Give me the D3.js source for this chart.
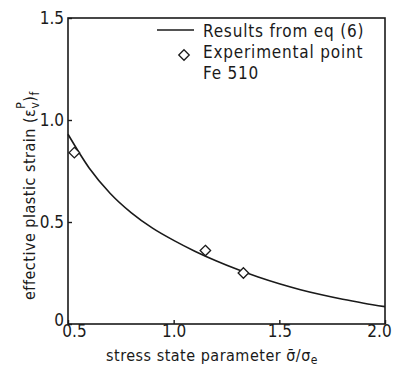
<!DOCTYPE html>
<html>
<head>
<meta charset="utf-8">
<script src="https://cdn.jsdelivr.net/npm/d3@7"></script>
<style>
  body { margin: 0; background: #fff; }
  svg text { font-family: "Liberation Sans Narrow", "DejaVu Sans Condensed", "Liberation Sans", sans-serif; fill: #1a1a1a; }
</style>
</head>
<body>
<svg id="chart" width="398" height="374"></svg>
<script>
// curve from eq (6)
var curveX = [0.5, 0.6, 0.7, 0.8, 0.9, 1.0, 1.1, 1.2, 1.3, 1.4, 1.5, 1.6, 1.7, 1.8, 1.9, 2.0];
var curveY = [0.93, 0.765, 0.64, 0.545, 0.47, 0.41, 0.357, 0.31, 0.268, 0.23, 0.197, 0.168, 0.143, 0.121, 0.102, 0.085];
// experimental points Fe 510
var expX = [0.53, 1.15, 1.33];
var expY = [0.84, 0.36, 0.25];
var xTicks = [0.5, 1.0, 1.5, 2.0];
var xTickLabels = ["0.5", "1.0", "1.5", "2.0"];
var yTicks = [0, 0.5, 1.0, 1.5];
var yTickLabels = ["0", "0.5", "1.0", "1.5"];
var legendLabels = ["Results from eq (6)", "Experimental point", "Fe 510"];

var svg = d3.select("#chart");
var ink = "#1a1a1a";

var x = d3.scaleLinear().domain([0.5, 2.0]).range([68, 385]);
var y = d3.scaleLinear().domain([0, 1.5]).range([324, 18]);

// frame
svg.append("rect")
    .attr("x", x(0.5)).attr("y", y(1.5))
    .attr("width", x(2.0) - x(0.5)).attr("height", y(0) - y(1.5))
    .attr("fill", "none").attr("stroke", ink).attr("stroke-width", 1.6);

// axes, ticks pointing inward
var xAxis = svg.append("g")
    .attr("transform", "translate(0," + y(0) + ")")
    .call(d3.axisBottom(x).tickValues(xTicks).tickSizeInner(-4).tickSizeOuter(0).tickPadding(1)
        .tickFormat(function (d, i) { return xTickLabels[i]; }));
var yAxis = svg.append("g")
    .attr("transform", "translate(" + x(0.5) + ",0)")
    .call(d3.axisLeft(y).tickValues(yTicks).tickSizeInner(-4).tickSizeOuter(0).tickPadding(4)
        .tickFormat(function (d, i) { return yTickLabels[i]; }));

[xAxis, yAxis].forEach(function (g) {
    g.select(".domain").remove();
    g.selectAll(".tick line").attr("stroke", ink).attr("stroke-width", 1.4);
    g.selectAll(".tick text").attr("font-size", 17).attr("fill", ink);
});
// first x label sits right of the corner, "0" label sits slightly high
xAxis.selectAll(".tick text").filter(function (d) { return d === 0.5; }).attr("dx", 6);
xAxis.selectAll(".tick text").filter(function (d) { return d === 2.0; }).attr("dx", -6);
yAxis.selectAll(".tick text").filter(function (d) { return d === 0; }).attr("dy", "0.1em");

// curve
var line = d3.line()
    .x(function (d) { return x(d[0]); })
    .y(function (d) { return y(d[1]); })
    .curve(d3.curveMonotoneX);
svg.append("path")
    .datum(d3.zip(curveX, curveY))
    .attr("d", line)
    .attr("fill", "none").attr("stroke", ink).attr("stroke-width", 1.6);

// experimental points
var diamond = d3.symbol().type(d3.symbolDiamond2).size(70);
svg.selectAll(".pt")
    .data(d3.zip(expX, expY))
    .enter().append("path")
    .attr("class", "pt")
    .attr("d", diamond)
    .attr("transform", function (d) { return "translate(" + x(d[0]) + "," + y(d[1]) + ")"; })
    .attr("fill", "#fff").attr("stroke", ink).attr("stroke-width", 1.3);

// legend
svg.append("line")
    .attr("x1", 157).attr("x2", 194).attr("y1", 30).attr("y2", 30)
    .attr("stroke", ink).attr("stroke-width", 1.6);
svg.append("path")
    .attr("d", diamond)
    .attr("transform", "translate(184,55)")
    .attr("fill", "#fff").attr("stroke", ink).attr("stroke-width", 1.3);
svg.selectAll(".leg")
    .data(legendLabels)
    .enter().append("text")
    .attr("class", "leg")
    .attr("x", 203)
    .attr("y", function (d, i) { return 37 + i * 21; })
    .attr("font-size", 17)
    .attr("letter-spacing", 0.8)
    .text(function (d) { return d; });

// axis titles
var xt = svg.append("text")
    .attr("x", 212).attr("y", 361)
    .attr("text-anchor", "middle")
    .attr("font-size", 16)
    .attr("letter-spacing", 0.5);
xt.append("tspan").text("stress state parameter  σ\u0304/σ");
xt.append("tspan").attr("font-size", 12).attr("dy", 3).text("e");

// y title starts at the bottom and runs up
var yt = svg.append("text")
    .attr("transform", "translate(35,300) rotate(-90)")
    .attr("font-size", 16)
    .attr("letter-spacing", 0.5);
yt.append("tspan").text("effective plastic strain  (ε");
yt.append("tspan").attr("font-size", 12).attr("dy", 4).text("v");
yt.append("tspan").attr("font-size", 12).attr("dx", -7).attr("dy", -14).text("P");
yt.append("tspan").attr("dy", 10).text(")");
yt.append("tspan").attr("font-size", 12).attr("dy", 4).text("f");
</script>
</body>
</html>
